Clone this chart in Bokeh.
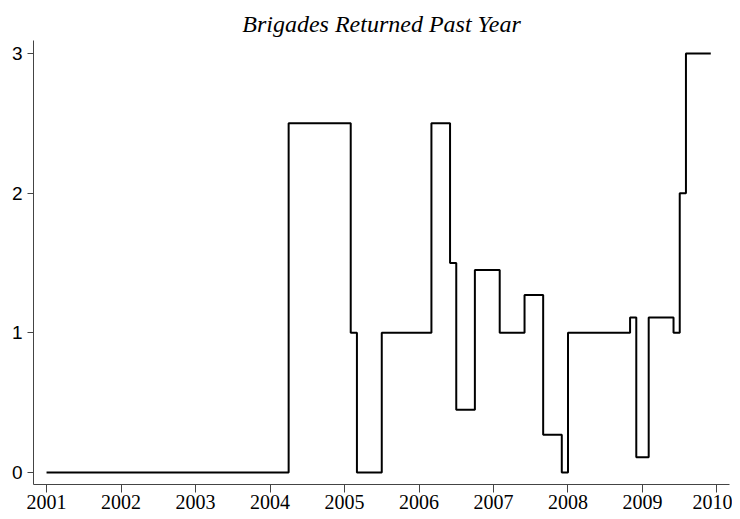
from bokeh.plotting import figure
from bokeh.models import FixedTicker, Range1d
from bokeh.embed import file_html
from bokeh.resources import INLINE

# Step data: start of each level (decimal year, monthly) and its value
step_start = [2001.0, 2004.25, 2005 + 1/12, 2005 + 2/12, 2005.5, 2006 + 2/12,
              2006 + 5/12, 2006.5, 2006.75, 2007 + 1/12, 2007 + 5/12,
              2007 + 8/12, 2007 + 11/12, 2008.0, 2008 + 10/12, 2008 + 11/12,
              2009 + 1/12, 2009 + 5/12, 2009.5, 2009 + 7/12]
step_value = [0, 2.5, 1, 0, 1, 2.5, 1.5, 0.45, 1.45, 1, 1.27, 0.27, 0, 1,
              1.11, 0.11, 1.11, 1, 2, 3]
series_end = 2009 + 11/12

x_ticks = [2001, 2002, 2003, 2004, 2005, 2006, 2007, 2008, 2009, 2010]
y_ticks = [0, 1, 2, 3]
title_text = "Brigades Returned Past Year"

xs = step_start + [series_end]
ys = step_value + [step_value[-1]]

p = figure(width=732, height=511, output_backend="svg", toolbar_location=None,
           x_range=Range1d(2000.825, 2010.168), y_range=Range1d(-0.086, 3.093),
           min_border_left=33, min_border_right=3, min_border_bottom=27,
           min_border_top=40, title=title_text)

p.step(xs, ys, mode="after", line_color="black", line_width=2)

p.title.text_font = "Liberation Serif"
p.title.text_font_style = "italic"
p.title.text_font_size = "24px"
p.title.text_color = "black"
p.title.align = "center"
p.title.offset = 0
p.title.standoff = 8

p.grid.visible = False
p.outline_line_color = None
p.background_fill_color = "white"
p.border_fill_color = "white"

xa = p.xaxis[0]
xa.ticker = FixedTicker(ticks=x_ticks)
xa.major_label_text_font = "Liberation Serif"
xa.major_label_text_font_size = "20px"
xa.major_label_text_color = "black"
xa.major_tick_out = 8
xa.major_tick_in = 0
xa.minor_tick_out = 0
xa.minor_tick_in = 0
xa.major_label_standoff = 2
xa.axis_line_color = "#444444"
xa.major_tick_line_color = "#444444"

ya = p.yaxis[0]
ya.ticker = FixedTicker(ticks=y_ticks)
ya.major_label_text_font = "Liberation Sans"
ya.major_label_text_font_size = "19px"
ya.major_label_text_color = "black"
ya.major_tick_out = 6
ya.major_tick_in = 0
ya.minor_tick_out = 0
ya.minor_tick_in = 0
ya.major_label_standoff = 5
ya.axis_line_color = "#444444"
ya.major_tick_line_color = "#444444"

open("out.html", "w").write(file_html(p, INLINE))
